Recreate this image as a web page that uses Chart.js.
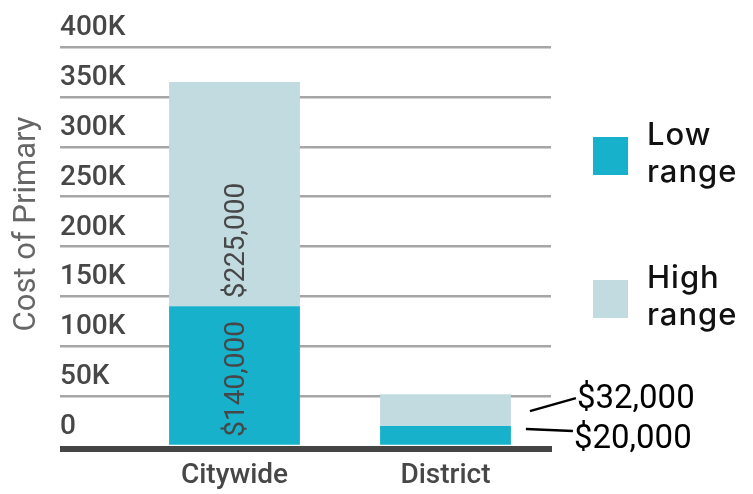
<!DOCTYPE html>
<html>
<head>
<meta charset="utf-8">
<script src="https://cdn.jsdelivr.net/npm/chart.js@4"></script>
<style>
  html, body { margin: 0; padding: 0; background: #ffffff; }
  #wrap { width: 753px; height: 494px; }
</style>
</head>
<body>
<div id="wrap"><canvas id="c" width="753" height="494"></canvas></div>
<script>
const categories = ['Citywide', 'District'];
const lowRange = [140000, 20000];
const highRange = [225000, 32000];
const seriesNames = ['Low range', 'High range'];
const yTickValues = [0, 50000, 100000, 150000, 200000, 250000, 300000, 350000, 400000];
const yTickLabels = ['0', '50K', '100K', '150K', '200K', '250K', '300K', '350K', '400K'];
const yTitle = 'Cost of Primary';

const LOW_COLOR = '#17b1cb';
const HIGH_COLOR = '#c1dbe0';
const TEXT_GRAY = '#474747';

function fmtMoney(v) { return '$' + v.toLocaleString('en-US'); }

const decorations = {
  id: 'decorations',
  afterDatasetsDraw(chart) {
    const { ctx, chartArea, scales: { y } } = chart;
    const y0 = y.getPixelForValue(0);
    ctx.save();
    // thick baseline under the bars
    ctx.fillStyle = '#454545';
    ctx.fillRect(y.left, Math.round(y0), chartArea.right + 1 - y.left, 6);

    chart.data.datasets.forEach((ds, di) => {
      const meta = chart.getDatasetMeta(di);
      meta.data.forEach((bar, i) => {
        const h = bar.base - bar.y;
        const text = fmtMoney(ds.data[i]);
        if (h > 80) {
          ctx.save();
          ctx.translate(bar.x + 9, bar.base - 8);
          ctx.rotate(-Math.PI / 2);
          ctx.font = '400 28px Roboto';
          ctx.fillStyle = TEXT_GRAY;
          ctx.textAlign = 'left';
          ctx.textBaseline = 'alphabetic';
          ctx.fillText(text, 0, 0);
          ctx.restore();
        } else {
          const right = bar.x + bar.width / 2;
          const mid = (bar.y + bar.base) / 2;
          let sx, sy, ex, ey, tb;
          if (di === 1) {
            sx = right + 19; sy = mid + 1; ex = right + 65; ey = mid - 12; tb = mid - 2;
          } else {
            sx = right + 15; sy = bar.y + 3; ex = right + 62; ey = bar.y + 5; tb = bar.y + 22;
          }
          ctx.strokeStyle = '#000';
          ctx.lineWidth = 2.5;
          ctx.beginPath();
          ctx.moveTo(sx, sy);
          ctx.lineTo(ex, ey);
          ctx.stroke();
          ctx.font = '400 33px Roboto';
          ctx.fillStyle = '#000';
          ctx.textAlign = 'left';
          ctx.textBaseline = 'alphabetic';
          ctx.fillText(text, ex + 1, tb);
        }
      });
    });
    ctx.restore();
  },
  afterDraw(chart) {
    const { ctx, chartArea } = chart;
    ctx.save();
    // y axis title
    ctx.translate(35, 224);
    ctx.rotate(-Math.PI / 2);
    ctx.font = '400 31px Roboto';
    ctx.fillStyle = '#666666';
    ctx.textAlign = 'center';
    ctx.textBaseline = 'alphabetic';
    ctx.fillText(yTitle, 0, 0);
    ctx.restore();

    // legend
    ctx.save();
    chart.data.datasets.forEach((ds, di) => {
      const bx = chartArea.right + 42;
      const by = 137 + di * 143;
      ctx.fillStyle = ds.backgroundColor;
      ctx.fillRect(bx, by, 35, 38);
      const words = ds.label.split(' ');
      ctx.font = '500 31px Inter';
      try { ctx.letterSpacing = '1px'; } catch (e) {}
      ctx.fillStyle = '#111111';
      ctx.textAlign = 'left';
      ctx.textBaseline = 'alphabetic';
      words.forEach((w, k) => ctx.fillText(w, bx + 54, by + 7.5 + k * 37.5));
    });
    ctx.restore();
  }
};

new Chart(document.getElementById('c'), {
  type: 'bar',
  data: {
    labels: categories,
    datasets: [
      { label: seriesNames[0], data: lowRange, backgroundColor: LOW_COLOR, borderWidth: 0 },
      { label: seriesNames[1], data: highRange, backgroundColor: HIGH_COLOR, borderWidth: 0 }
    ]
  },
  options: {
    responsive: false,
    devicePixelRatio: 1,
    animation: false,
    barPercentage: 0.62,
    categoryPercentage: 1.0,
    layout: { padding: { left: 60, right: 202, top: 47, bottom: -11.6 } },
    plugins: { legend: { display: false }, tooltip: { enabled: false } },
    scales: {
      x: {
        stacked: true,
        offset: true,
        grid: { display: false, drawTicks: false },
        border: { display: false },
        ticks: { font: { family: 'Roboto', size: 28, weight: '500' }, color: TEXT_GRAY, padding: 13 }
      },
      y: {
        stacked: true,
        min: 0,
        max: 400000,
        afterBuildTicks: (s) => { s.ticks = yTickValues.map(v => ({ value: v })); },
        afterFit: (s) => { s.width = 69; },
        border: { display: false },
        grid: {
          color: (c) => (c.tick && c.tick.value === 0) ? 'rgba(0,0,0,0)' : '#a6a6a6',
          lineWidth: 2.5,
          drawTicks: true,
          tickLength: 69
        },
        ticks: {
          crossAlign: 'far',
          padding: 0,
          labelOffset: -19,
          font: { family: 'Roboto', size: 28, weight: '500' },
          color: TEXT_GRAY,
          callback: (v, i) => yTickLabels[i]
        }
      }
    }
  },
  plugins: [decorations]
});
</script>
</body>
</html>
